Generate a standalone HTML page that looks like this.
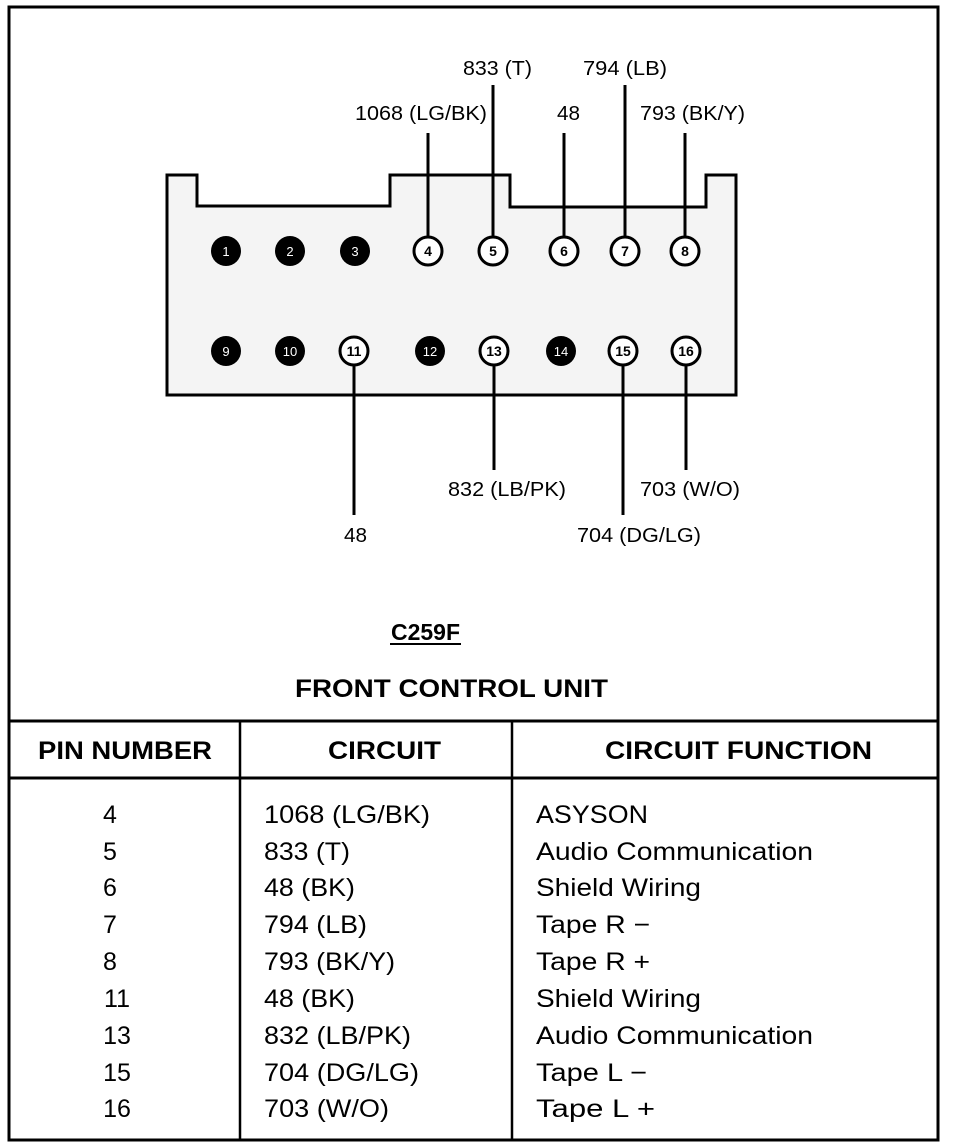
<!DOCTYPE html>
<html><head><meta charset="utf-8"><style>
html,body{margin:0;padding:0;background:#fff;}
svg{display:block;}
text{font-family:"Liberation Sans",Arial,sans-serif;fill:#000;}
</style></head><body>
<svg width="960" height="1148" viewBox="0 0 960 1148">
<rect x="0" y="0" width="960" height="1148" fill="#fff"/>
<rect x="9" y="7" width="929" height="1133" fill="none" stroke="#000" stroke-width="3"/>
<line x1="9" y1="721" x2="938" y2="721" stroke="#000" stroke-width="3"/>
<line x1="9" y1="778" x2="938" y2="778" stroke="#000" stroke-width="3"/>
<line x1="240" y1="721" x2="240" y2="1140" stroke="#000" stroke-width="2.5"/>
<line x1="512" y1="721" x2="512" y2="1140" stroke="#000" stroke-width="2.5"/>

<path d="M167,175 H197 V206 H390 V175 H510 V207 H706 V175 H736 V395 H167 Z" fill="#f4f4f4" stroke="#000" stroke-width="3"/>

<g stroke="#000" stroke-width="3">
<line x1="428" y1="133" x2="428" y2="236"/>
<line x1="493" y1="85" x2="493" y2="236"/>
<line x1="564" y1="133" x2="564" y2="236"/>
<line x1="625" y1="85" x2="625" y2="236"/>
<line x1="685" y1="133" x2="685" y2="236"/>
<line x1="354" y1="366" x2="354" y2="515"/>
<line x1="494" y1="366" x2="494" y2="470"/>
<line x1="623" y1="366" x2="623" y2="515"/>
<line x1="686" y1="366" x2="686" y2="470"/>
</g>

<g font-size="13" text-anchor="middle">
<circle cx="226" cy="251" r="15"/><text x="226" y="256" style="fill:#fff">1</text>
<circle cx="290" cy="251" r="15"/><text x="290" y="256" style="fill:#fff">2</text>
<circle cx="355" cy="251" r="15"/><text x="355" y="256" style="fill:#fff">3</text>
<g fill="#fff" stroke="#000" stroke-width="3">
<circle cx="428" cy="251" r="14"/><circle cx="493" cy="251" r="14"/><circle cx="564" cy="251" r="14"/><circle cx="625" cy="251" r="14"/><circle cx="685" cy="251" r="14"/>
<circle cx="354" cy="351" r="14"/><circle cx="494" cy="351" r="14"/><circle cx="623" cy="351" r="14"/><circle cx="686" cy="351" r="14"/>
</g>
<g font-weight="bold" font-size="14">
<text x="428" y="256">4</text><text x="493" y="256">5</text><text x="564" y="256">6</text><text x="625" y="256">7</text><text x="685" y="256">8</text>
<text x="354" y="356">11</text><text x="494" y="356">13</text><text x="623" y="356">15</text><text x="686" y="356">16</text>
</g>
<circle cx="226" cy="351" r="15"/><text x="226" y="356" style="fill:#fff">9</text>
<circle cx="290" cy="351" r="15"/><text x="290" y="356" style="fill:#fff">10</text>
<circle cx="430" cy="351" r="15"/><text x="430" y="356" style="fill:#fff">12</text>
<circle cx="561" cy="351" r="15"/><text x="561" y="356" style="fill:#fff">14</text>
</g>

<g font-size="20" lengthAdjust="spacingAndGlyphs">
<text x="463" y="75" textLength="69" lengthAdjust="spacingAndGlyphs">833 (T)</text>
<text x="583" y="75" textLength="84" lengthAdjust="spacingAndGlyphs">794 (LB)</text>
<text x="355" y="120" textLength="132" lengthAdjust="spacingAndGlyphs">1068 (LG/BK)</text>
<text x="557" y="120" textLength="23" lengthAdjust="spacingAndGlyphs">48</text>
<text x="640" y="120" textLength="105" lengthAdjust="spacingAndGlyphs">793 (BK/Y)</text>
<text x="448" y="496" textLength="118" lengthAdjust="spacingAndGlyphs">832 (LB/PK)</text>
<text x="640" y="496" textLength="100" lengthAdjust="spacingAndGlyphs">703 (W/O)</text>
<text x="344" y="542" textLength="23" lengthAdjust="spacingAndGlyphs">48</text>
<text x="577" y="542" textLength="124" lengthAdjust="spacingAndGlyphs">704 (DG/LG)</text>
</g>

<text x="391" y="640" font-size="23" font-weight="bold" textLength="69" lengthAdjust="spacingAndGlyphs">C259F</text>
<line x1="390" y1="644" x2="461" y2="644" stroke="#000" stroke-width="2"/>
<text x="295" y="697" font-size="25" font-weight="bold" textLength="313" lengthAdjust="spacingAndGlyphs">FRONT CONTROL UNIT</text>

<g font-size="25" font-weight="bold">
<text x="38" y="759" textLength="174" lengthAdjust="spacingAndGlyphs">PIN NUMBER</text>
<text x="328" y="759" textLength="113" lengthAdjust="spacingAndGlyphs">CIRCUIT</text>
<text x="605" y="759" textLength="267" lengthAdjust="spacingAndGlyphs">CIRCUIT FUNCTION</text>
</g>

<g font-size="25">
<g text-anchor="middle">
<text x="110" y="823">4</text><text x="110" y="860">5</text><text x="110" y="896">6</text><text x="110" y="933">7</text><text x="110" y="970">8</text><text x="117" y="1007">11</text><text x="117" y="1044">13</text><text x="117" y="1081">15</text><text x="117" y="1117">16</text>
</g>
<text x="264" y="823" textLength="166" lengthAdjust="spacingAndGlyphs">1068 (LG/BK)</text>
<text x="264" y="860" textLength="86" lengthAdjust="spacingAndGlyphs">833 (T)</text>
<text x="264" y="896" textLength="91" lengthAdjust="spacingAndGlyphs">48 (BK)</text>
<text x="264" y="933" textLength="103" lengthAdjust="spacingAndGlyphs">794 (LB)</text>
<text x="264" y="970" textLength="131" lengthAdjust="spacingAndGlyphs">793 (BK/Y)</text>
<text x="264" y="1007" textLength="91" lengthAdjust="spacingAndGlyphs">48 (BK)</text>
<text x="264" y="1044" textLength="147" lengthAdjust="spacingAndGlyphs">832 (LB/PK)</text>
<text x="264" y="1081" textLength="155" lengthAdjust="spacingAndGlyphs">704 (DG/LG)</text>
<text x="264" y="1117" textLength="125" lengthAdjust="spacingAndGlyphs">703 (W/O)</text>
<text x="536" y="823" textLength="112" lengthAdjust="spacingAndGlyphs">ASYSON</text>
<text x="536" y="860" textLength="277" lengthAdjust="spacingAndGlyphs">Audio Communication</text>
<text x="536" y="896" textLength="165" lengthAdjust="spacingAndGlyphs">Shield Wiring</text>
<text x="536" y="933" textLength="114" lengthAdjust="spacingAndGlyphs">Tape R −</text>
<text x="536" y="970" textLength="114" lengthAdjust="spacingAndGlyphs">Tape R +</text>
<text x="536" y="1007" textLength="165" lengthAdjust="spacingAndGlyphs">Shield Wiring</text>
<text x="536" y="1044" textLength="277" lengthAdjust="spacingAndGlyphs">Audio Communication</text>
<text x="536" y="1081" textLength="111" lengthAdjust="spacingAndGlyphs">Tape L −</text>
<text x="536" y="1117" textLength="119" lengthAdjust="spacingAndGlyphs">Tape L +</text>
</g>
</svg>
</body></html>
